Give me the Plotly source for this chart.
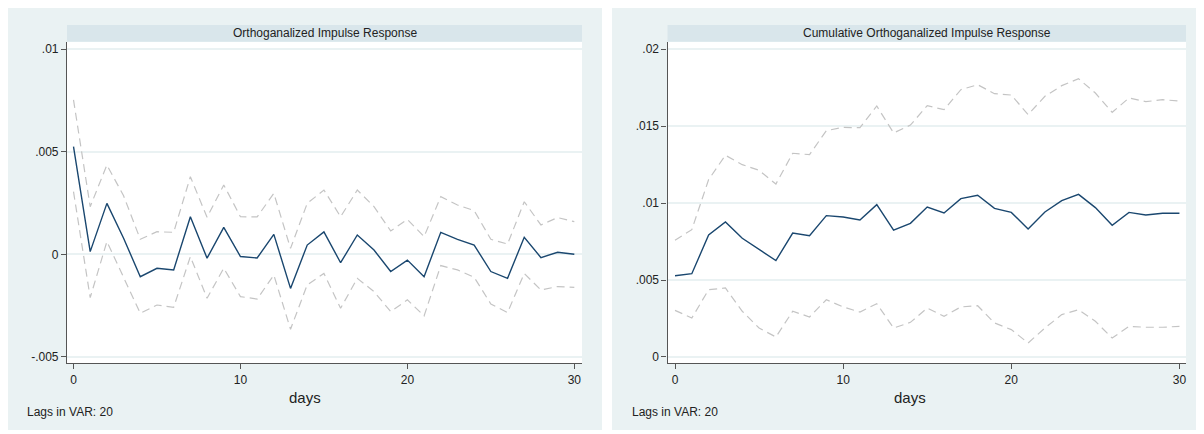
import plotly.graph_objects as go

# ---------------- data ----------------
days = list(range(31))

oirf = [0.00524, 0.00013, 0.00248, 0.00078, -0.00109, -0.00068, -0.00076, 0.00183,
        -0.00019, 0.00131, -0.00011, -0.00018, 0.00097, -0.00166, 0.00045, 0.00109,
        -0.00041, 0.00094, 0.00021, -0.00084, -0.00028, -0.00109, 0.00107, 0.00073,
        0.00045, -0.00084, -0.00117, 0.00083, -0.00016, 0.00010, 0.00000]
oirf_hi = [0.00752, 0.00232, 0.00435, 0.00285, 0.00073, 0.00110, 0.00107, 0.00378,
           0.00180, 0.00338, 0.00183, 0.00182, 0.00297, 0.00029, 0.00248, 0.00313,
           0.00183, 0.00313, 0.00232, 0.00114, 0.00170, 0.00086, 0.00281, 0.00240,
           0.00213, 0.00073, 0.00050, 0.00256, 0.00143, 0.00179, 0.00159]
oirf_lo = [0.00305, -0.00211, 0.00062, -0.00110, -0.00287, -0.00247, -0.00258, -0.00011,
           -0.00214, -0.00068, -0.00206, -0.00218, -0.00101, -0.00365, -0.00149, -0.00093,
           -0.00263, -0.00117, -0.00182, -0.00279, -0.00222, -0.00300, -0.00055, -0.00076,
           -0.00112, -0.00242, -0.00284, -0.00093, -0.00174, -0.00157, -0.00161]

coirf = [0.00528, 0.00541, 0.00792, 0.00877, 0.00771, 0.00701, 0.00626, 0.00805,
         0.00788, 0.00918, 0.00909, 0.00890, 0.00989, 0.00823, 0.00868, 0.00974,
         0.00935, 0.01028, 0.01050, 0.00965, 0.00939, 0.00831, 0.00942, 0.01015,
         0.01056, 0.00970, 0.00855, 0.00939, 0.00922, 0.00933, 0.00933]
coirf_hi = [0.00758, 0.00827, 0.01152, 0.01310, 0.01249, 0.01212, 0.01123, 0.01323,
            0.01314, 0.01470, 0.01491, 0.01489, 0.01630, 0.01455, 0.01506, 0.01632,
            0.01606, 0.01736, 0.01768, 0.01710, 0.01701, 0.01574, 0.01693, 0.01762,
            0.01807, 0.01714, 0.01589, 0.01682, 0.01658, 0.01671, 0.01662]
coirf_lo = [0.00303, 0.00253, 0.00437, 0.00448, 0.00297, 0.00188, 0.00130, 0.00297,
            0.00260, 0.00372, 0.00325, 0.00292, 0.00346, 0.00188, 0.00225, 0.00318,
            0.00264, 0.00325, 0.00333, 0.00221, 0.00178, 0.00091, 0.00188, 0.00275,
            0.00307, 0.00232, 0.00123, 0.00199, 0.00193, 0.00193, 0.00199]

left_yticks = [-0.005, 0, 0.005, 0.01]
left_ytext = ["-.005", "0", ".005", ".01"]
right_yticks = [0, 0.005, 0.01, 0.015, 0.02]
right_ytext = ["0", ".005", ".01", ".015", ".02"]
xticks = [0, 10, 20, 30]

titles = ["Orthoganalized Impulse Response", "Cumulative Orthoganalized Impulse Response"]
note = "Lags in VAR: 20"
xtitle = "days"

# ---------------- style ----------------
OFF = 8                      # default page body margin
W, H = 1204 - OFF, 434 - OFF
FONT = "Liberation Sans, Arial, Helvetica, sans-serif"
PANEL = "#eaf2f3"
STRIP = "#d9e6eb"
NAVY = "#1a476f"
CI = "#c4c4c4"
AXIS = "#555555"
GRID = "#eaf2f3"

def fx(px):
    return max(0.0, (px - OFF) / W)

def fy(py):
    return min(1.0, 1 - (py - OFF) / H)

fig = go.Figure()

def add_series(x, y, axn, color, dash, width):
    fig.add_trace(go.Scatter(x=x, y=y, mode="lines",
                             line=dict(color=color, dash=dash, width=width),
                             xaxis="x" + ("" if axn == 1 else str(axn)),
                             yaxis="y" + ("" if axn == 1 else str(axn)),
                             showlegend=False, hoverinfo="skip"))

add_series(days, oirf_hi, 1, CI, "8px,5px", 1.2)
add_series(days, oirf_lo, 1, CI, "8px,5px", 1.2)
add_series(days, oirf, 1, NAVY, "solid", 1.4)
add_series(days, coirf_hi, 2, CI, "8px,5px", 1.2)
add_series(days, coirf_lo, 2, CI, "8px,5px", 1.2)
add_series(days, coirf, 2, NAVY, "solid", 1.4)

# panel geometry (screen pixels)
panels = [
    dict(bg=(7, 602), plot=(67, 582), days_x=305, note_x=25),
    dict(bg=(612, 1204), plot=(667.5, 1186), days_x=910, note_x=630),
]
plot_top, plot_bot = 41.7, 363
strip_top = 25

common_x = dict(showline=True, linecolor=AXIS, linewidth=1.2, ticks="outside",
                ticklen=5, tickcolor=AXIS, tickwidth=1, tickvals=xticks,
                showgrid=False, zeroline=False,
                tickfont=dict(family=FONT, size=12, color="#222222"))
common_y = dict(showline=True, linecolor=AXIS, linewidth=1.2, ticks="outside",
                ticklen=5, tickcolor=AXIS, tickwidth=1,
                showgrid=True, gridcolor=GRID, gridwidth=2, zeroline=False,
                tickfont=dict(family=FONT, size=12, color="#222222"))

shapes = []
annotations = []
for i, p in enumerate(panels):
    shapes.append(dict(type="rect", xref="paper", yref="paper", layer="below",
                       x0=fx(p["bg"][0]), x1=fx(p["bg"][1]), y0=fy(430), y1=fy(4),
                       fillcolor=PANEL, line=dict(width=0)))
    shapes.append(dict(type="rect", xref="paper", yref="paper", layer="below",
                       x0=fx(p["plot"][0]), x1=fx(p["plot"][1]),
                       y0=fy(plot_bot), y1=fy(plot_top),
                       fillcolor="white", line=dict(width=0)))
    shapes.append(dict(type="rect", xref="paper", yref="paper", layer="below",
                       x0=fx(p["plot"][0]), x1=fx(p["plot"][1]),
                       y0=fy(plot_top), y1=fy(strip_top),
                       fillcolor=STRIP, line=dict(width=0)))
    annotations.append(dict(text=titles[i], xref="paper", yref="paper",
                            x=fx((p["plot"][0] + p["plot"][1]) / 2), y=fy((strip_top + plot_top) / 2),
                            xanchor="center", yanchor="middle", showarrow=False,
                            font=dict(family=FONT, size=12, color="#222222")))
    annotations.append(dict(text=xtitle, xref="paper", yref="paper",
                            x=fx(p["days_x"]), y=fy(397),
                            xanchor="center", yanchor="middle", showarrow=False,
                            font=dict(family=FONT, size=15, color="#222222")))
    annotations.append(dict(text=note, xref="paper", yref="paper",
                            x=fx(p["note_x"]), y=fy(412),
                            xanchor="left", yanchor="middle", showarrow=False,
                            font=dict(family=FONT, size=12, color="#222222")))

fig.update_layout(
    width=W, height=H,
    margin=dict(l=0, r=0, t=0, b=0),
    paper_bgcolor="white", plot_bgcolor="white",
    showlegend=False,
    xaxis=dict(common_x, domain=[fx(67), fx(582)], range=[-0.39, 30.46], anchor="y"),
    yaxis=dict(common_y, domain=[fy(plot_bot), fy(plot_top)], range=[-0.005295, 0.010356],
               tickvals=left_yticks, ticktext=left_ytext, anchor="x"),
    xaxis2=dict(common_x, domain=[fx(667.5), fx(1186)], range=[-0.446, 30.39], anchor="y2"),
    yaxis2=dict(common_y, domain=[fy(plot_bot), fy(plot_top)], range=[-0.00039, 0.020474],
                tickvals=right_yticks, ticktext=right_ytext, anchor="x2"),
    shapes=shapes,
    annotations=annotations,
)

fig.write_html("out.html")
